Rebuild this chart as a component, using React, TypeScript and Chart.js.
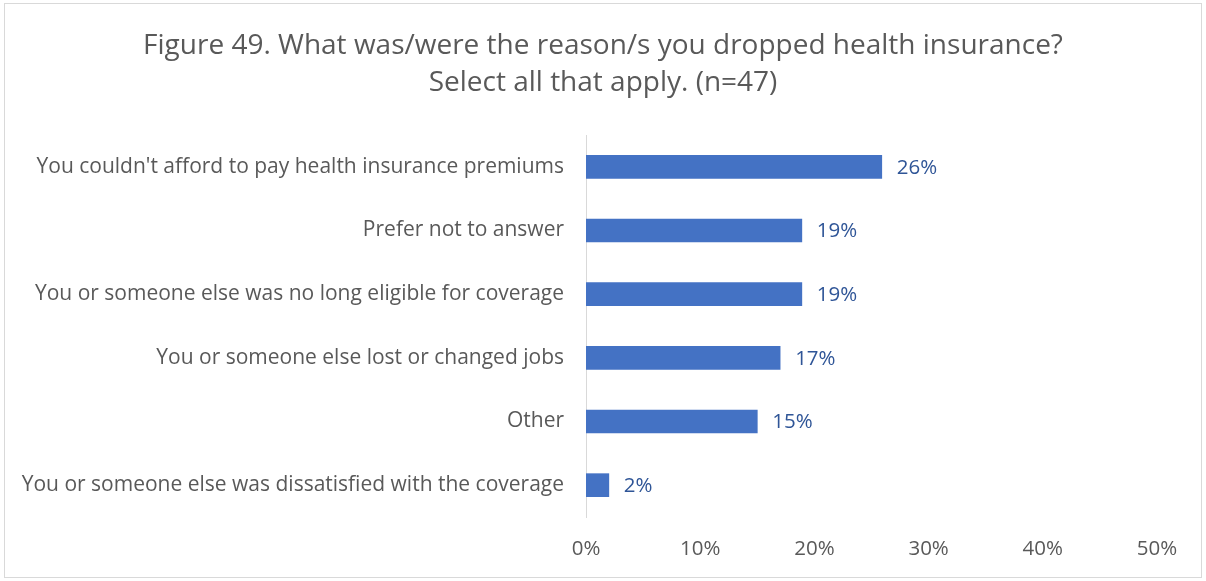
import React, { useEffect, useRef } from "react";
import { Chart, registerables } from "chart.js";

Chart.register(...registerables);

const titleLines = [
  "Figure 49. What was/were the reason/s you dropped health insurance?",
  "Select all that apply. (n=47)",
];
const categories = [
  "You couldn't afford to pay health insurance premiums",
  "Prefer not to answer",
  "You or someone else was no long eligible for coverage",
  "You or someone else lost or changed jobs",
  "Other",
  "You or someone else was dissatisfied with the coverage",
];
const values = [25.9, 18.9, 18.9, 17.0, 15.0, 2.0];
const valueLabels = ["26%", "19%", "19%", "17%", "15%", "2%"];
const xTicks = [0, 10, 20, 30, 40, 50];

const LABEL_FONT = "'Open Sans', sans-serif";
const TITLE_FONT = "'Open Sans', sans-serif";

const borderPlugin = {
  id: "outerBorder",
  beforeDraw(chart: any) {
    const { ctx } = chart;
    ctx.save();
    ctx.fillStyle = "#ffffff";
    ctx.fillRect(0, 0, chart.width, chart.height);
    ctx.strokeStyle = "#d9d9d9";
    ctx.lineWidth = 1;
    ctx.strokeRect(4.5, 3.5, chart.width - 9, chart.height - 7);
    ctx.font = `28px ${TITLE_FONT}`;
    ctx.fillStyle = "#595959";
    ctx.textAlign = "center";
    ctx.textBaseline = "middle";
    ctx.fillText(titleLines[0], chart.width / 2, 46);
    ctx.fillText(titleLines[1], chart.width / 2, 83);
    ctx.restore();
  },
};

const dataLabelPlugin = {
  id: "dataLabels",
  afterDatasetsDraw(chart: any) {
    const { ctx } = chart;
    const meta = chart.getDatasetMeta(0);
    ctx.save();
    ctx.font = `20.5px ${LABEL_FONT}`;
    ctx.fillStyle = "#2F5597";
    ctx.textAlign = "left";
    ctx.textBaseline = "middle";
    meta.data.forEach((bar: any, i: number) => {
      ctx.fillText(valueLabels[i], bar.x + 15, bar.y + 1);
    });
    ctx.restore();
  },
};

export default function App() {
  const ref = useRef<HTMLCanvasElement>(null);
  useEffect(() => {
    document.body.style.margin = "0";
    const chart = new Chart(ref.current!, {
      type: "bar",
      data: {
        labels: categories,
        datasets: [
          {
            data: values,
            backgroundColor: "#4472C4",
            borderWidth: 0,
            barThickness: 23,
          },
        ],
      },
      options: {
        indexAxis: "y",
        animation: false,
        responsive: false,
        maintainAspectRatio: false,
        layout: { padding: { left: 10, right: 49, top: 135, bottom: 0 } },
        plugins: {
          legend: { display: false },
          tooltip: { enabled: false },
          title: { display: false },
        },
        scales: {
          x: {
            min: 0,
            max: 50,
            afterBuildTicks(axis: any) {
              axis.ticks = xTicks.map((v) => ({ value: v }));
            },
            afterFit(axis: any) {
              axis.height = 64;
            },
            grid: { display: false, drawTicks: false },
            border: { display: false },
            ticks: {
              color: "#595959",
              font: { family: LABEL_FONT, size: 20.5 },
              padding: 20,
              maxRotation: 0,
              callback: (v: any) => `${v}%`,
            },
          },
          y: {
            grid: { display: false, drawTicks: false },
            border: { display: true, color: "#d9d9d9", width: 1 },
            afterFit(axis: any) {
              axis.width = 576;
            },
            ticks: {
              color: "#595959",
              font: { family: LABEL_FONT, size: 21 },
              padding: 22,
            },
          },
        },
      },
      plugins: [borderPlugin, dataLabelPlugin],
    });
    return () => chart.destroy();
  }, []);
  return <canvas ref={ref} width={1206} height={581} style={{ display: "block" }} />;
}
